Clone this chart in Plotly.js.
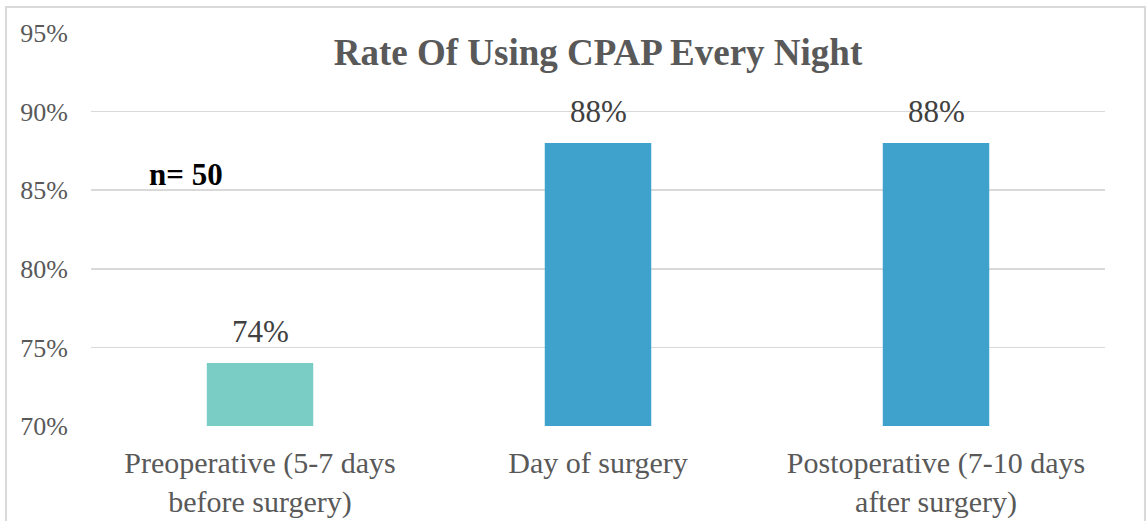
<!DOCTYPE html>
<html><head><meta charset="utf-8">
<script src="https://cdn.plot.ly/plotly-3.0.1.min.js"></script>
<style>html,body{margin:0;padding:0;background:#fff}#c{width:1146px;height:521px}</style>
</head><body><div id="c"></div>
<script>
const categories = ["Preoperative (5-7 days<br>before surgery)", "Day of surgery", "Postoperative (7-10 days<br>after surgery)"];
const values = [74, 88, 88];
const barColors = ["#79CDC4", "#3FA2CD", "#3FA2CD"];
const yTicks = [70, 75, 80, 85, 90, 95];
const titleText = "Rate Of Using CPAP Every Night";
const noteText = "n= 50";

const F = "Liberation Serif, Times New Roman, serif";
const baseVal = 70;
const trace = {
  type: "bar", x: categories, y: values.map(v => v - baseVal), base: baseVal,
  marker: {color: barColors}, width: 0.315, hoverinfo: "none"
};

const annotations = categories.map((c, i) => ({
  x: c, y: values[i], xref: "x", yref: "y", text: values[i] + "%",
  showarrow: false, yanchor: "bottom", yshift: 12,
  font: {family: F, size: 31, color: "#404040"}
}));
annotations.push({
  x: 0.055, xref: "paper", y: 86.0, yref: "y", text: "<b>" + noteText + "</b>",
  showarrow: false, xanchor: "left", yanchor: "middle",
  font: {family: F, size: 31, color: "#000"}
});

const layout = {
  width: 1146, height: 521,
  margin: {l: 91, r: 41, t: 33, b: 95},
  paper_bgcolor: "#fff", plot_bgcolor: "#fff",
  title: {text: "<b>" + titleText + "</b>", font: {family: F, size: 37, color: "#595959"},
          x: 0.5, xref: "paper", y: 0.90, yref: "container", xanchor: "center", yanchor: "middle"},
  showlegend: false,
  xaxis: {tickfont: {family: F, size: 30, color: "#595959"}, showgrid: false, zeroline: false,
          showline: false, ticks: "outside", ticklen: 10, tickcolor: "rgba(0,0,0,0)", fixedrange: true},
  yaxis: {range: [70, 95], tickvals: yTicks, ticktext: yTicks.map(v => v + "%"),
          tickfont: {family: F, size: 26, color: "#595959"}, gridcolor: "#d9d9d9", gridwidth: 1.5,
          zeroline: false, showline: false, ticks: "outside", ticklen: 17, tickcolor: "rgba(0,0,0,0)"},
  annotations: annotations,
  shapes: [{type: "rect", xref: "paper", yref: "paper", x0: -0.0838, x1: 1.0394, y0: -0.3, y1: 1.066,
            line: {color: "#d9d9d9", width: 2}, fillcolor: "rgba(0,0,0,0)"}]
};
Plotly.newPlot("c", [trace], layout, {displayModeBar: false, staticPlot: true});
</script></body></html>
